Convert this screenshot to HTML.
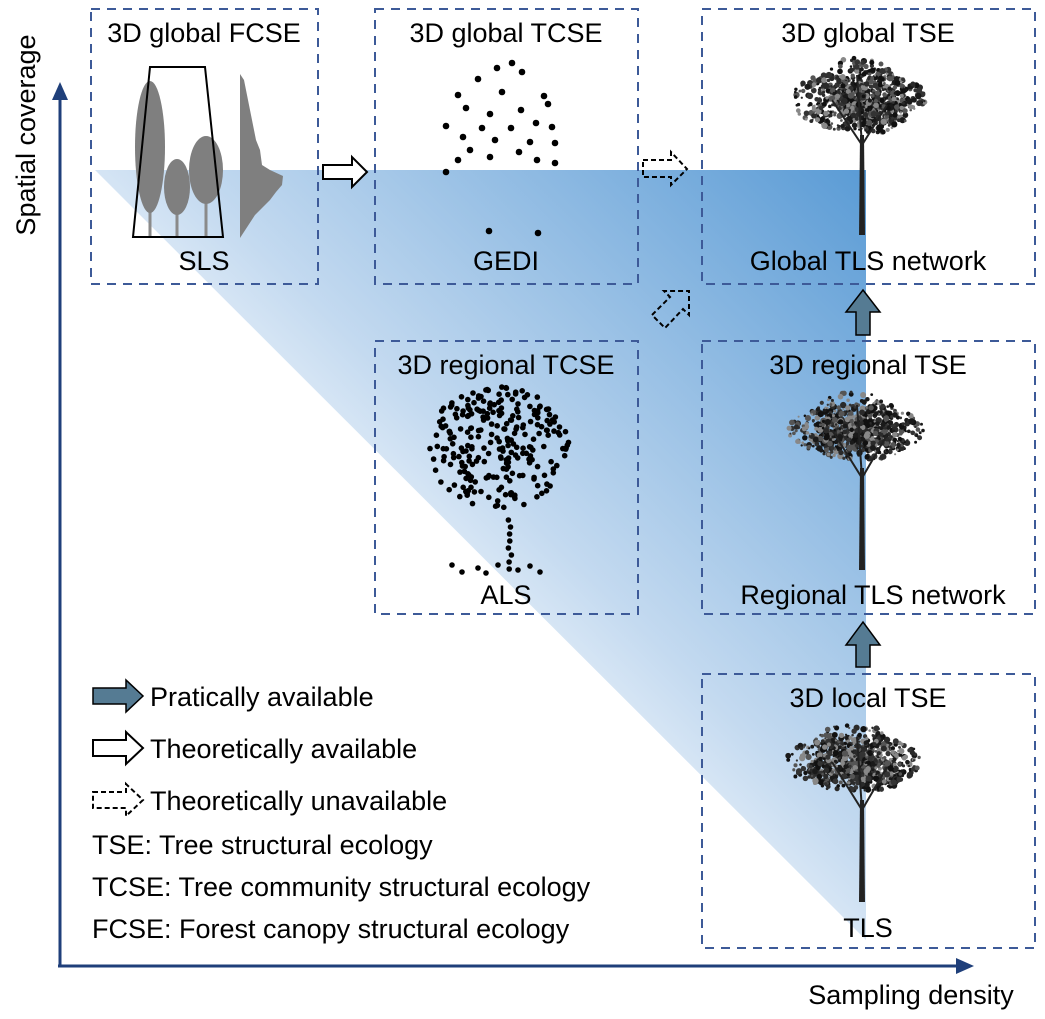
<!DOCTYPE html>
<html><head><meta charset="utf-8"><style>
html,body{margin:0;padding:0;background:#fff;}
svg{display:block;}
text{font-family:"Liberation Sans",Arial,sans-serif;fill:#000;}
</style></head><body>
<svg id="s" width="1045" height="1019" viewBox="0 0 1045 1019" xmlns="http://www.w3.org/2000/svg">
<defs>
<linearGradient id="g" x1="380" y1="660" x2="866" y2="170" gradientUnits="userSpaceOnUse">
<stop offset="0" stop-color="#ffffff"/>
<stop offset="0.3" stop-color="#c4daf0"/>
<stop offset="1" stop-color="#5a9bd5"/>
</linearGradient>
</defs>
<polygon points="95,170 866,170 866,940" fill="url(#g)"/>
<g fill="none" stroke="#3d5a98" stroke-width="2" stroke-dasharray="9,7">
<rect x="91" y="9" width="227" height="275"/>
<rect x="375" y="9" width="263" height="275"/>
<rect x="702" y="9" width="333" height="275"/>
<rect x="375" y="341" width="263" height="273"/>
<rect x="702" y="341" width="333" height="273"/>
<rect x="702" y="674" width="333" height="274"/>
</g>
<g stroke="#1f3f7a" stroke-width="3" fill="#1f3f7a">
<line x1="60" y1="966" x2="60" y2="95"/>
<line x1="58" y1="966" x2="960" y2="966"/>
<polygon points="60,82 52,100 68,100" stroke="none"/>
<polygon points="974,966 956,958 956,974" stroke="none"/>
</g>
<text x="0" y="0" font-size="27" transform="translate(35,135) rotate(-90)" text-anchor="middle">Spatial coverage</text>
<text x="911" y="1004" font-size="27" text-anchor="middle">Sampling density</text>
<g font-size="27" text-anchor="middle">
<text x="204" y="42">3D global FCSE</text>
<text x="506" y="42">3D global TCSE</text>
<text x="868" y="42">3D global TSE</text>
<text x="506" y="374">3D regional TCSE</text>
<text x="868" y="374">3D regional TSE</text>
<text x="868" y="707">3D local TSE</text>
<text x="204" y="270">SLS</text>
<text x="506" y="270">GEDI</text>
<text x="868" y="270">Global TLS network</text>
<text x="506" y="604">ALS</text>
<text x="873" y="604">Regional TLS network</text>
<text x="868" y="937">TLS</text>
</g>
<g fill="#7f7f7f" stroke="#8a8a8a" stroke-width="3">
<line x1="150" y1="150" x2="150" y2="236"/>
<line x1="177" y1="190" x2="177" y2="236"/>
<line x1="206" y1="180" x2="206" y2="236"/>
<ellipse cx="150" cy="147" rx="15" ry="66" stroke="none"/>
<ellipse cx="177" cy="187" rx="13" ry="28" stroke="none"/>
<ellipse cx="206" cy="170" rx="17" ry="34" stroke="none"/>
</g>
<polygon points="240,74 244,80 248,100 252,120 256,140 260,150 262,165 270,170 283,176 282,185 276,192 270,200 262,208 255,215 240,238" fill="#7f7f7f"/>
<polygon points="150,67 205,67 223,237 133,237" fill="none" stroke="#000" stroke-width="2"/>
<polygon points="323,165 352,165 352,157 367,172 352,187 352,179 323,179" fill="#fff" stroke="#000" stroke-width="2"/>
<polygon points="643,160 671,160 671,152 687,169 671,185 671,177 643,177" fill="none" stroke="#000" stroke-width="2" stroke-dasharray="5,3"/>
<polygon points="652,315 670,297 664,291 689,291 689,315 683,309 665,328" fill="none" stroke="#000" stroke-width="2" stroke-dasharray="5,3"/>
<polygon points="856,335 856,312 846,312 863,290 880,312 870,312 870,335" fill="#557b93" stroke="#000" stroke-width="1.5"/>
<polygon points="856,667 856,645 846,645 863,622 880,645 870,645 870,667" fill="#557b93" stroke="#000" stroke-width="1.5"/>
<polygon points="93,688 126,688 126,680 143,696 126,712 126,704 93,704" fill="#557b93" stroke="#000" stroke-width="1.5"/>
<polygon points="93,740 126,740 126,732 143,748 126,764 126,756 93,756" fill="#fff" stroke="#000" stroke-width="2"/>
<polygon points="93,792 126,792 126,784 143,800 126,816 126,808 93,808" fill="#fff" stroke="#000" stroke-width="2" stroke-dasharray="5,3"/>
<g font-size="27">
<text x="150" y="706">Pratically available</text>
<text x="150" y="758">Theoretically available</text>
<text x="150" y="810">Theoretically unavailable</text>
<text x="92" y="854">TSE: Tree structural ecology</text>
<text x="92" y="896">TCSE: Tree community structural ecology</text>
<text x="92" y="938">FCSE: Forest canopy structural ecology</text>
</g>
<g id="dots" fill="#000"></g>
<g id="trees"></g>
</svg>
<script>
var seed=7;function r(){seed=(seed*16807)%2147483647;return seed/2147483647;}
var ns="http://www.w3.org/2000/svg";
var d=document.getElementById("dots");
function c(g,x,y,rad,f){var e=document.createElementNS(ns,"circle");e.setAttribute("cx",x.toFixed(1));e.setAttribute("cy",y.toFixed(1));e.setAttribute("r",rad);if(f)e.setAttribute("fill",f);g.appendChild(e);}
var gp=[[512,63],[497,68],[478,79],[522,72],[458,95],[502,92],[544,96],[548,104],[466,108],[521,110],[490,114],[446,126],[482,128],[536,123],[552,127],[511,128],[463,137],[495,140],[530,142],[555,143],[470,150],[519,152],[490,157],[537,160],[458,160],[555,163],[446,172],[489,231],[538,233]];
gp.forEach(function(p){c(d,p[0],p[1],3.3);});
for(var i=0;i<260;i++){var a=r()*Math.PI*2,rr=Math.sqrt(r());var x=497+Math.cos(a)*rr*72,y=448+Math.sin(a)*rr*62;if(y<390&&Math.abs(x-500)>40)continue;c(d,x,y,2.8);}
for(var i=0;i<8;i++)c(d,508+r()*4,520+i*7,2.8);
[[452,565],[462,572],[478,568],[486,573],[498,565],[518,570],[530,566],[540,572]].forEach(function(p){c(d,p[0],p[1],2.8);});
var t=document.getElementById("trees");
function tree(cx,cy,w,h,tx,ty0,ty1){
 var g=document.createElementNS(ns,"g");t.appendChild(g);
 var lobes=[[0,-0.3,0.55],[-0.4,0,0.5],[0.4,0,0.5],[-0.15,0.2,0.45],[0.25,0.25,0.4],[0.1,-0.1,0.55]];
 for(var i=0;i<900;i++){var L=lobes[Math.floor(r()*lobes.length)];var a=r()*Math.PI*2,rr=Math.sqrt(r())*L[2];var x=cx+(L[0]+Math.cos(a)*rr)*w/2,y=cy+(L[1]+Math.sin(a)*rr)*h/2;var sh=["#111","#1a1a1a","#2a2a2a","#333","#555","#888"][Math.floor(r()*6)];c(g,x,y,1+r()*2.2,sh);}
 var p=document.createElementNS(ns,"polygon");p.setAttribute("points",(tx-2)+","+ty0+" "+(tx+2)+","+ty0+" "+(tx+3)+","+ty1+" "+(tx-3)+","+ty1);p.setAttribute("fill","#222");g.appendChild(p);
 var l=document.createElementNS(ns,"path");l.setAttribute("d","M"+tx+","+(ty0+10)+" L"+(tx-30)+","+(cy)+" M"+tx+","+(ty0+10)+" L"+(tx+25)+","+(cy+5)+" M"+tx+","+(ty0+10)+" L"+(tx-5)+","+(cy-25));l.setAttribute("stroke","#222");l.setAttribute("stroke-width","2");l.setAttribute("fill","none");g.appendChild(l);
}
tree(858,100,150,100,862,135,235);
tree(856,430,150,90,862,468,570);
tree(854,762,150,90,862,800,902);
</script>
</body></html>
